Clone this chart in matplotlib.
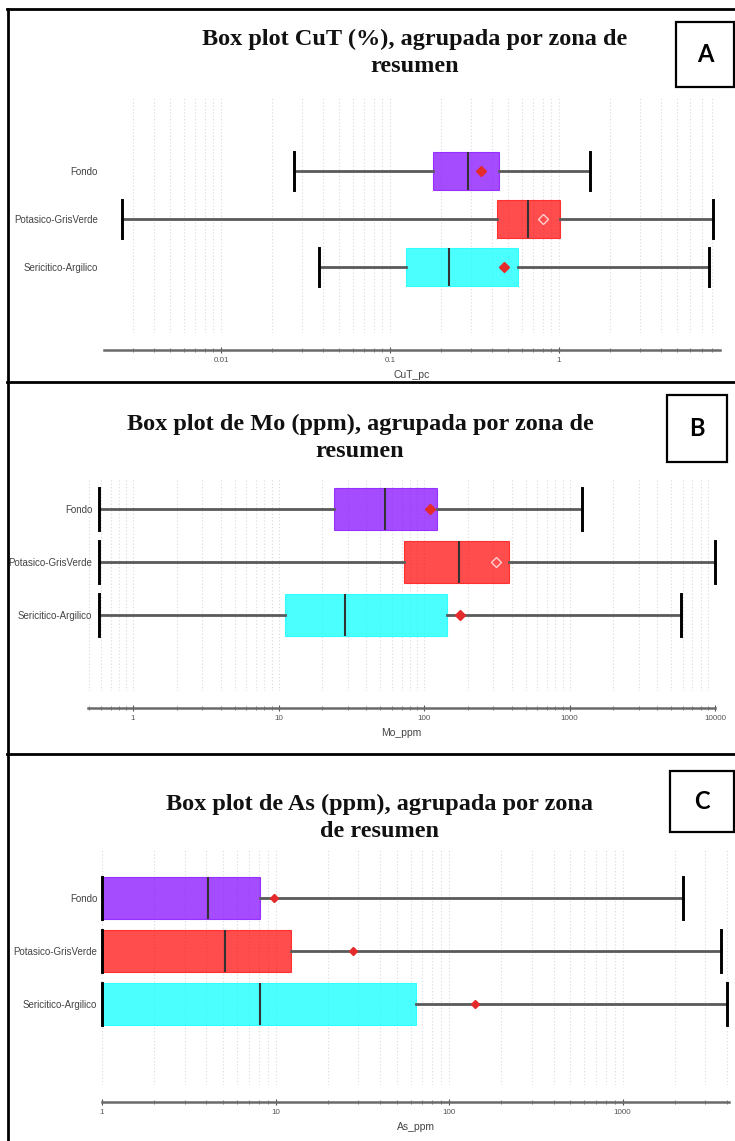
import matplotlib
matplotlib.use("Agg")
import matplotlib.pyplot as plt
from matplotlib.patches import Rectangle
from matplotlib.lines import Line2D
from matplotlib.ticker import LogLocator, NullFormatter

# ---------------- data ----------------
categorias = ['Fondo', 'Potasico-GrisVerde', 'Sericitico-Argilico']

cut_min = [0.027, 0.0026, 0.038]
cut_q1 = [0.18, 0.43, 0.124]
cut_med = [0.29, 0.66, 0.223]
cut_q3 = [0.44, 1.01, 0.57]
cut_max = [1.53, 8.2, 7.7]
cut_mean = [0.345, 0.80, 0.473]
cut_ticks = [0.01, 0.1, 1]
cut_ticklabels = ['0.01', '0.1', '1']

mo_min = [0.58, 0.58, 0.58]
mo_q1 = [24, 73, 11]
mo_med = [54, 173, 28.5]
mo_q3 = [123, 384, 144]
mo_max = [1220, 10000, 5870]
mo_mean = [110, 312, 178]
mo_ticks = [1, 10, 100, 1000, 10000]
mo_ticklabels = ['1', '10', '100', '1000', '10000']

as_min = [1, 1, 1]
as_q1 = [1, 1, 1]
as_med = [4.1, 5.1, 8.1]
as_q3 = [8.1, 12.3, 64.6]
as_max = [2230, 3670, 3970]
as_mean = [9.8, 28, 141]
as_ticks = [1, 10, 100, 1000]
as_ticklabels = ['1', '10', '100', '1000']

titulos = ['Box plot CuT (%), agrupada por zona de\nresumen',
           'Box plot de Mo (ppm), agrupada por zona de\nresumen',
           'Box plot de As (ppm), agrupada por zona\nde resumen']
xlabels = ['CuT_pc', 'Mo_ppm', 'As_ppm']
letras = ['A', 'B', 'C']

# ---------------- style ----------------
colores = ['#7F00FF', '#FF0000', '#00FFFF']
W, H = 735, 1141
fig = plt.figure(figsize=(W / 100, H / 100), dpi=100)


def fx(px):
    return px / W


def fy(py):
    return 1 - py / H


def add_ax(left, right, top, bottom):
    return fig.add_axes([fx(left), fy(bottom), (right - left) / W, (bottom - top) / H])


def panel(ax, mins, q1, med, q3, maxs, means, xlim, ylim, ticks, ticklabels,
          xlabel, ypad, hollow_idx=(), mean_ms=5):
    stats = []
    for i, c in enumerate(categorias):
        stats.append(dict(label=c, whislo=mins[i], q1=q1[i], med=med[i],
                          q3=q3[i], whishi=maxs[i], mean=means[i], fliers=[]))
    ax.set_xscale('log')
    ax.set_xlim(*xlim)
    ax.set_ylim(*ylim)
    ax.grid(True, which='both', axis='x', color='#d9d9d9', linestyle=(0, (1, 2)),
            linewidth=0.8)
    ax.set_axisbelow(True)
    res = ax.bxp(stats, positions=[0, 1, 2], widths=0.79, capwidths=0.79,
                 orientation='horizontal', patch_artist=True, showmeans=True,
                 whiskerprops=dict(color='#5a5a5a', linewidth=2.0),
                 capprops=dict(color='black', linewidth=2.1),
                 medianprops=dict(color='#333333', linewidth=1.5),
                 meanprops=dict(marker='D', markerfacecolor='#E42A2A',
                                markeredgecolor='#E42A2A', markersize=mean_ms,
                                linestyle='none'))
    for b, col in zip(res['boxes'], colores):
        b.set_facecolor(col)
        b.set_alpha(0.7)
        b.set_edgecolor(col)
        b.set_linewidth(0.8)
    for c in res['caps']:
        c.set_clip_on(False)
    for i in hollow_idx:
        m = res['means'][i]
        m.set_markerfacecolor('none')
        m.set_markeredgecolor('#FFD0D0')
        m.set_markeredgewidth(1.0)
    for s in ['top', 'right', 'left']:
        ax.spines[s].set_visible(False)
    ax.spines['bottom'].set_position(('outward', 12))
    ax.spines['bottom'].set_color('#6a6a6a')
    ax.spines['bottom'].set_linewidth(1.8)
    ax.xaxis.set_minor_locator(LogLocator(base=10, subs=range(2, 10), numticks=20))
    ax.xaxis.set_minor_formatter(NullFormatter())
    ax.set_xticks(ticks)
    ax.set_xticklabels(ticklabels)
    ax.tick_params(axis='x', which='major', direction='inout', length=5, width=0.8,
                   color='#555555', labelsize=5.8, labelcolor='#555555', pad=3)
    ax.tick_params(axis='x', which='minor', direction='inout', length=3, width=0.6,
                   color='#666666')
    ax.tick_params(axis='y', length=0, labelsize=7, labelcolor='#444444', pad=ypad)
    for t in ax.get_yticklabels():
        t.set_fontfamily('Liberation Sans')
    for t in ax.get_xticklabels():
        t.set_fontfamily('Liberation Sans')
    ax.set_xlabel(xlabel, fontsize=7.5, color='#444444', family='Liberation Sans',
                  labelpad=4)


# Panel A
axA = add_ax(104, 720, 97, 333)
panel(axA, cut_min, cut_q1, cut_med, cut_q3, cut_max, cut_mean,
      (0.00203, 8.97), (3.375, -1.54), cut_ticks, cut_ticklabels, xlabels[0],
      ypad=4.5, hollow_idx=(1,))

# Panel B
axB = add_ax(88, 715, 478, 691)
panel(axB, mo_min, mo_q1, mo_med, mo_q3, mo_max, mo_mean,
      (0.49, 10000), (3.43, -0.585), mo_ticks, mo_ticklabels, xlabels[1],
      ypad=-3, hollow_idx=(1,))

# Panel C
axC = add_ax(102, 729, 850, 1085)
panel(axC, as_min, as_q1, as_med, as_q3, as_max, as_mean,
      (1, 4100), (3.53, -0.906), as_ticks, as_ticklabels, xlabels[2],
      ypad=3.5, mean_ms=4.5)

# Titles
title_pos = [(415, 53), (360, 438), (380, 818)]
for t, (x, y) in zip(titulos, title_pos):
    fig.text(fx(x), fy(y), t, ha='center', va='center', family='Liberation Serif',
             fontweight='bold', fontsize=17.5, color='#111111', linespacing=1.42)

# Panel frame lines
frame_kw = dict(color='black', linewidth=2.0, transform=fig.transFigure)
fig.add_artist(Line2D([fx(7), fx(735)], [fy(9), fy(9)], **frame_kw))
fig.add_artist(Line2D([fx(8), fx(8)], [fy(9), fy(1141)], **frame_kw))
fig.add_artist(Line2D([fx(7), fx(735)], [fy(382), fy(382)], **frame_kw))
fig.add_artist(Line2D([fx(7), fx(735)], [fy(754), fy(754)], **frame_kw))

# Letter boxes
boxes = [(676, 734, 22, 87), (667, 727, 395, 462), (670, 734, 771, 832)]
for (l, r, t, b), letra in zip(boxes, letras):
    fig.add_artist(Rectangle((fx(l), fy(b)), (r - l) / W, (b - t) / H,
                             transform=fig.transFigure, facecolor='white',
                             edgecolor='black', linewidth=1.6))
    fig.text(fx((l + r) / 2), fy((t + b) / 2), letra, ha='center', va='center',
             family='Lato', fontweight='bold', fontsize=17, color='black')

fig.savefig('out.png', dpi=100, facecolor='white')
